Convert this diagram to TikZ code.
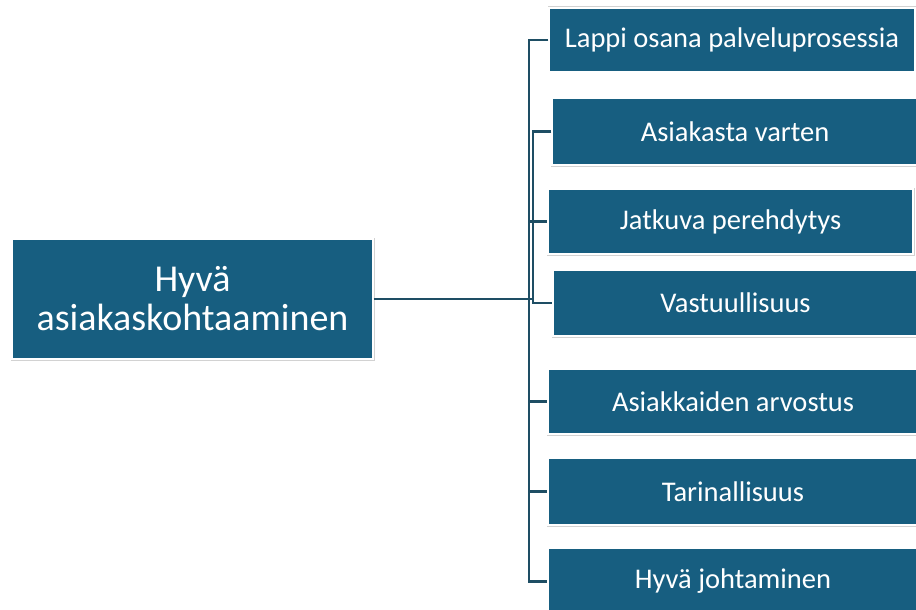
\documentclass[tikz,border=0pt]{standalone}
\usepackage{fontspec}
\setmainfont{Carlito}
\definecolor{boxblue}{RGB}{23,94,128}
\definecolor{linecol}{RGB}{30,78,100}
\begin{document}
\begin{tikzpicture}[x=1pt,y=-1pt,
  bluebox/.style={rectangle, fill=boxblue, draw=white, line width=1.4pt,
    preaction={draw=gray!35, line width=3pt}, inner sep=0pt,
    text=white, font=\fontsize{28.5}{32}\selectfont, align=center},
  conn/.style={draw=linecol, line width=2.5pt}]
\useasboundingbox (0,0) rectangle (916,610);
\clip (0,0) rectangle (916,610);
\fill[white] (0,0) rectangle (916,610);
% connectors
\coordinate (tA) at (529,299);
\coordinate (tB) at (533,299);
% boxes
\node[bluebox, minimum width=361pt, minimum height=120pt, font=\fontsize{38}{39}\selectfont] (main) at (192.5,299) {Hyvä\\asiakaskohtaaminen};
\node[bluebox, minimum width=366pt, minimum height=64pt] (b1) at (732,40) {Lappi osana palveluprosessia};
\node[bluebox, minimum width=366pt, minimum height=67pt] (b2) at (735,131.5) {Asiakasta varten};
\node[bluebox, minimum width=365pt, minimum height=65pt] (b3) at (730.5,221.5) {Jatkuva perehdytys};
\node[bluebox, minimum width=365pt, minimum height=66pt] (b4) at (735.5,303) {Vastuullisuus};
\node[bluebox, minimum width=370pt, minimum height=65pt] (b5) at (733,401.5) {Asiakkaiden arvostus};
\node[bluebox, minimum width=370pt, minimum height=67pt] (b6) at (733,491.5) {Tarinallisuus};
\node[bluebox, minimum width=370pt, minimum height=67pt] (b7) at (733,581.5) {Hyvä johtaminen};
\draw[conn] (b1.west) -| (tA) |- (b7.west);
\draw[conn] (tA) |- (b3.west);
\draw[conn] (tA) |- (b5.west);
\draw[conn] (tA) |- (b6.west);
\draw[conn] (b2.west) -| (tB) |- (b4.west);
\draw[conn] (main.east) -- (tB);
\end{tikzpicture}
\end{document}
